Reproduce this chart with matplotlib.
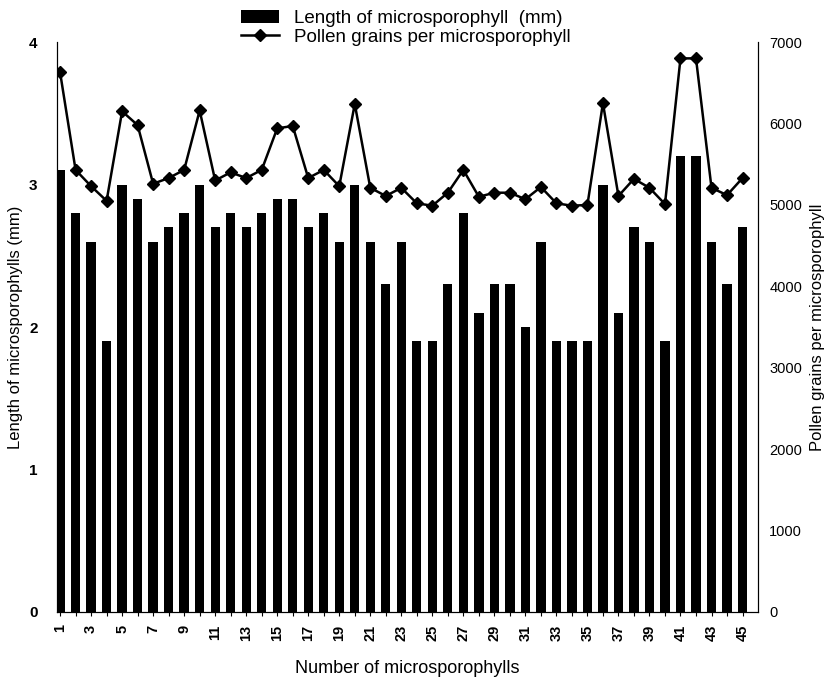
import matplotlib
matplotlib.use("Agg")
import matplotlib.pyplot as plt
import numpy as np

plt.rcParams['font.family'] = ['Liberation Sans', 'DejaVu Sans']

microsporophyll = list(range(1, 46))
length_mm = [3.1, 2.8, 2.6, 1.9, 3.0, 2.9, 2.6, 2.7, 2.8, 3.0,
             2.7, 2.8, 2.7, 2.8, 2.9, 2.9, 2.7, 2.8, 2.6, 3.0,
             2.6, 2.3, 2.6, 1.9, 1.9, 2.3, 2.8, 2.1, 2.3, 2.3,
             2.0, 2.6, 1.9, 1.9, 1.9, 3.0, 2.1, 2.7, 2.6, 1.9,
             3.2, 3.2, 2.6, 2.3, 2.7]
pollen = [6630, 5430, 5230, 5050, 6150, 5980, 5260, 5330, 5430, 6160,
          5300, 5400, 5330, 5430, 5940, 5970, 5330, 5430, 5230, 6240,
          5210, 5110, 5210, 5020, 4990, 5150, 5430, 5100, 5150, 5150,
          5070, 5220, 5020, 4990, 5000, 6250, 5110, 5320, 5210, 5010,
          6800, 6800, 5210, 5120, 5330]
xtick_labels = [str(i) if i % 2 == 1 else '' for i in microsporophyll]

fig = plt.figure(figsize=(8.28, 6.79), dpi=100)
ax = fig.add_axes([0.0688, 0.0987, 0.8467, 0.8393])
ax2 = ax.twinx()

x = np.array(microsporophyll)
bars = ax.bar(x, length_mm, width=0.6, color='black', label='Length of microsporophyll  (mm)')
line, = ax2.plot(x, pollen, color='black', lw=1.8, marker='D', markersize=6,
                 label='Pollen grains per microsporophyll')

ax.set_xlim(0.8, 46.0)
ax.set_ylim(0, 4)
ax2.set_ylim(0, 7000)

ax.set_yticks([0, 1, 2, 3, 4])
ax2.set_yticks(range(0, 7001, 1000))
ax.set_xticks(x)
ax.set_xticklabels(xtick_labels, rotation=90, fontsize=10.5, fontweight='bold')

for a in (ax, ax2):
    a.spines['top'].set_visible(False)
ax.tick_params(axis='y', labelsize=11, length=0, pad=14)
ax2.tick_params(axis='y', labelsize=10.5, length=0, pad=8)
ax.tick_params(axis='x', length=3, direction='out', pad=6)
for t in ax.get_yticklabels():
    t.set_fontweight('bold')

ax.set_xlabel('Number of microsporophylls', fontsize=13, labelpad=14)
ax.set_ylabel('Length of microsporophylls (mm)', fontsize=12, labelpad=4)
ax2.set_ylabel('Pollen grains per microsporophyll', fontsize=12, labelpad=6)

fig.legend(handles=[bars, line], loc='upper center', bbox_to_anchor=(0.49, 1.005),
           frameon=False, fontsize=13.5, handlelength=2.0, handletextpad=0.8,
           borderpad=0.2, labelspacing=0.1)

fig.savefig('out.png', dpi=100)
